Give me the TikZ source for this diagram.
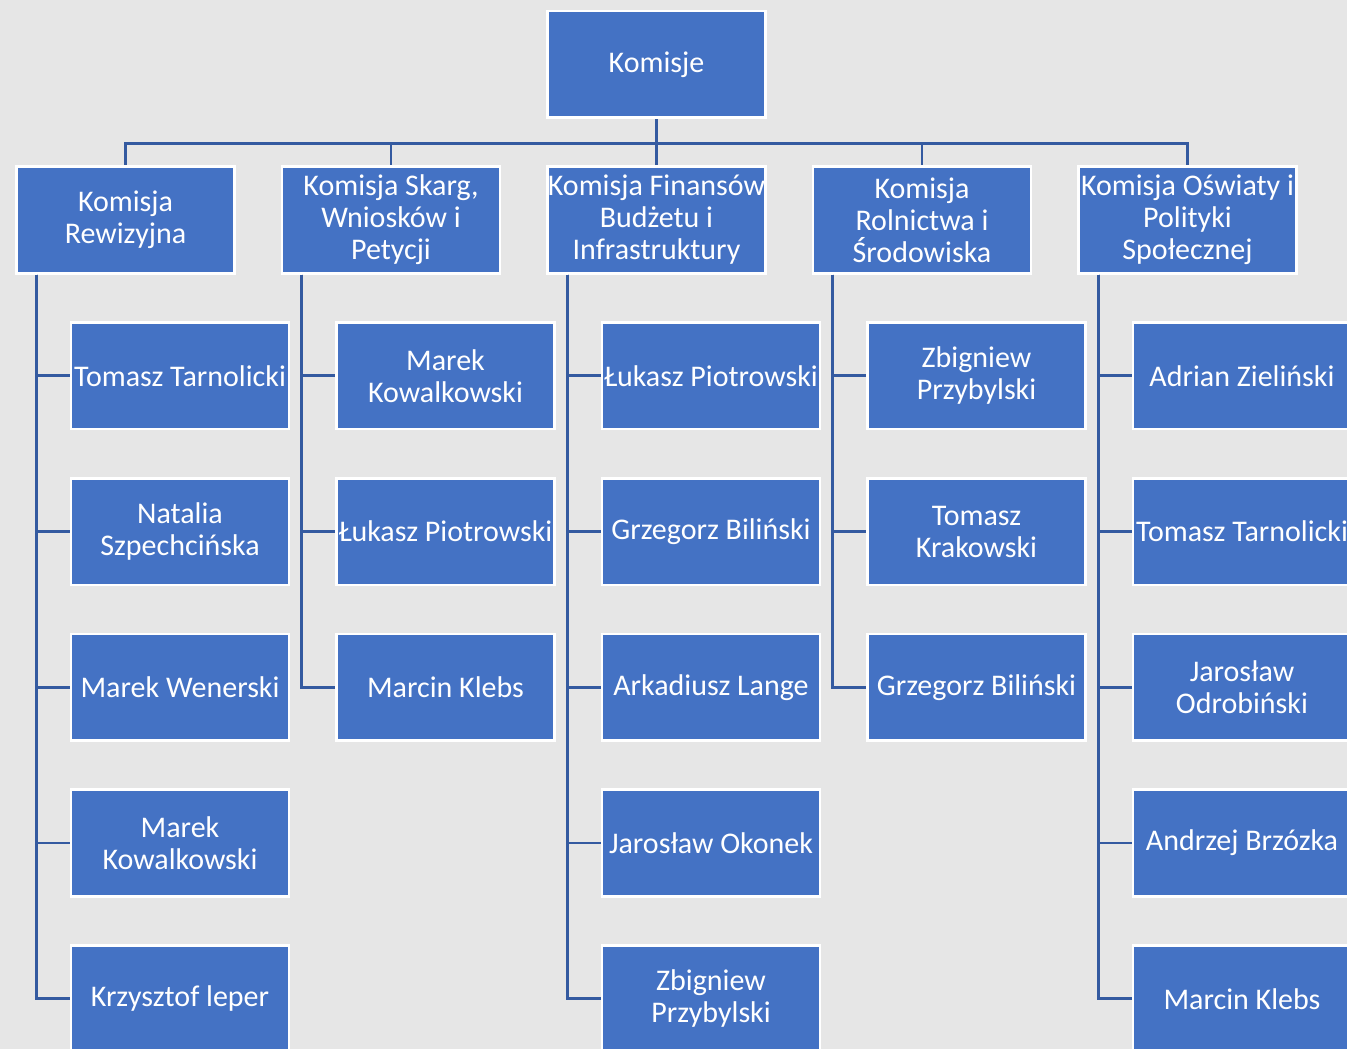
\documentclass[tikz,border=0pt]{standalone}
\usepackage{fontspec}
\setmainfont{Carlito}
\usepackage{tikz}
\usetikzlibrary{positioning}
\usetikzlibrary{calc}
\definecolor{boxblue}{RGB}{68,114,196}
\definecolor{linkblue}{RGB}{52,90,160}
\definecolor{bggray}{RGB}{230,230,230}
\tikzstyle{komisja}=[rectangle,fill=boxblue,draw=white,line width=2pt,minimum width=163.5pt,minimum height=80pt,inner sep=0pt,text=white,align=center,font=\fontsize{22.5}{24}\selectfont]
\tikzstyle{link} = [draw,line width=2.2pt,linkblue]

\begin{document}
\begin{tikzpicture}[x=0.75pt,y=-0.75pt]
    % Background and frame of the chart
    \fill[bggray] (0,0) rectangle (1347,1049);
    \clip (0,0) rectangle (1347,1049);

    % First we draw the top box and the committees
    \node[komisja] (komisje) at (656.5,64.5) {Komisje};
    \foreach \pos/\name/\label in {{(125.5,220)/k1/{Komisja\\Rewizyjna}}, {(391,220)/k2/{Komisja Skarg,\\Wniosków i\\Petycji}}, {(656.5,220)/k3/{Komisja Finansów\\Budżetu i\\Infrastruktury}}, {(922,220)/k4/{Komisja\\Rolnictwa i\\Środowiska}}, {(1187.5,220)/k5/{Komisja Oświaty i\\Polityki\\Społecznej}}}
        \node[komisja] (\name) at \pos {\label};

    % Connect the committees to the top box
    \foreach \dest in {k1,k2,k3,k4,k5}
        \path[link] (komisje.south) -- ++(0,24) -| (\dest.north);

    % Members of each committee
    \foreach \col/\row/\label in {1/1/{Tomasz Tarnolicki}, 1/2/{Natalia\\Szpechcińska}, 1/3/{Marek Wenerski}, 1/4/{Marek\\Kowalkowski}, 1/5/{Krzysztof leper},
        2/1/{Marek\\Kowalkowski}, 2/2/{Łukasz Piotrowski}, 2/3/{Marcin Klebs},
        3/1/{Łukasz Piotrowski}, 3/2/{Grzegorz Biliński}, 3/3/{Arkadiusz Lange}, 3/4/{Jarosław Okonek}, 3/5/{Zbigniew\\Przybylski},
        4/1/{Zbigniew\\Przybylski}, 4/2/{Tomasz\\Krakowski}, 4/3/{Grzegorz Biliński},
        5/1/{Adrian Zieliński}, 5/2/{Tomasz Tarnolicki}, 5/3/{Jarosław\\Odrobiński}, 5/4/{Andrzej Brzózka}, 5/5/{Marcin Klebs}}
    {
        \node[komisja] (m\col\row) at ($(k\col.center)+(54.5,155.75*\row)$) {\label};
        \path[link] ($(k\col.south west)+(21,0)$) |- (m\col\row.west);
    }
\end{tikzpicture}
\end{document}
